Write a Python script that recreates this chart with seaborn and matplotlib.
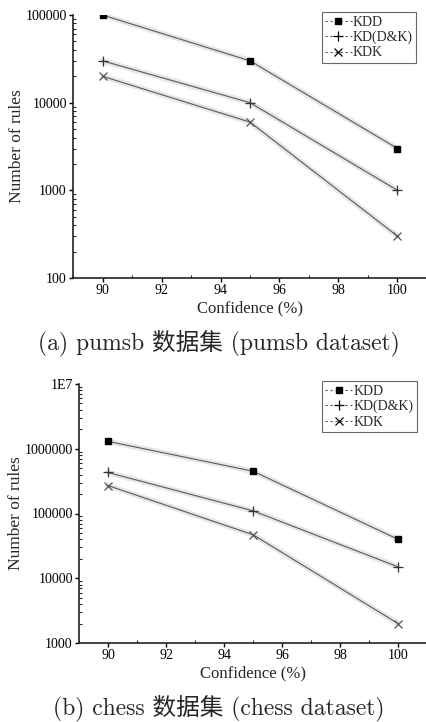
import matplotlib
matplotlib.use("Agg")
import matplotlib.pyplot as plt
import matplotlib.patheffects as pe
import matplotlib.ticker as mticker
from matplotlib.lines import Line2D
import pandas as pd
import seaborn as sns

confidence = [90, 95, 100]
series_names = ["KDD", "KD(D&K)", "KDK"]

pumsb_kdd = [100000, 30000, 3000]
pumsb_kddk = [30000, 10000, 1000]
pumsb_kdk = [20000, 6000, 300]

chess_kdd = [1300000, 450000, 40000]
chess_kddk = [430000, 110000, 15000]
chess_kdk = [270000, 47000, 2000]

x_ticks = [90, 92, 94, 96, 98, 100]
pumsb_yticks = [100, 1000, 10000, 100000]
chess_yticks = [1000, 10000, 100000, 1000000, 10000000]

captions = ["(a) pumsb 数据集 (pumsb dataset)", "(b) chess 数据集 (chess dataset)"]

sns.set_theme(style="ticks")
plt.rcParams["font.family"] = ["Liberation Serif", "DejaVu Serif"]

marker_style = {
    "KDD": dict(marker="s", markersize=5, color="black", markeredgecolor="black"),
    "KD(D&K)": dict(marker="+", markersize=7, color="#333333", markeredgewidth=0.9),
    "KDK": dict(marker="x", markersize=6, color="#555555", markeredgewidth=0.9),
}


def make_frame(kdd, kddk, kdk):
    rows = []
    for name, vals in zip(series_names, [kdd, kddk, kdk]):
        for c, v in zip(confidence, vals):
            rows.append({"confidence": c, "rules": v, "series": name})
    return pd.DataFrame(rows)


def fmt_rules(v, _pos):
    if v >= 1e7:
        return "1E7"
    return f"{int(round(v))}"


def draw_panel(ax, df, yticks):
    glow = [pe.Stroke(linewidth=4, foreground="#e6e6e6"), pe.Normal()]
    for name in series_names:
        sub = df[df["series"] == name]
        sns.lineplot(data=sub, x="confidence", y="rules", ax=ax, color="#5a5a5a",
                     linewidth=0.8, path_effects=glow, zorder=2)
        st = marker_style[name]
        ax.plot(sub["confidence"], sub["rules"], linestyle="none", zorder=3, **st)

    ax.set_yscale("log")
    ax.set_xlim(89, 101)
    ax.set_ylim(yticks[0], yticks[-1])
    ax.set_xticks(x_ticks)
    ax.xaxis.set_minor_locator(mticker.MultipleLocator(1))
    ax.set_yticks(yticks)
    ax.yaxis.set_major_formatter(mticker.FuncFormatter(fmt_rules))
    ax.yaxis.set_minor_locator(mticker.LogLocator(base=10, subs=range(2, 10)))
    ax.yaxis.set_minor_formatter(mticker.NullFormatter())
    ax.tick_params(axis="both", which="major", direction="out", length=3, width=1,
                   labelsize=10, colors="black", pad=1.5)
    ax.tick_params(axis="both", which="minor", direction="in", length=2.5, width=0.8)
    for side in ["top", "right"]:
        ax.spines[side].set_visible(False)
    for side in ["left", "bottom"]:
        ax.spines[side].set_linewidth(1.2)
        ax.spines[side].set_color("#222222")
    ax.set_xlabel("Confidence (%)", fontsize=12, labelpad=2)
    ax.set_ylabel("Number of rules", fontsize=12.5, labelpad=0)

    handles = [Line2D([0], [0], linestyle=(0, (2, 2.5)), linewidth=0.8, color="#555555",
                      **{k: v for k, v in marker_style[n].items() if k != "color"},
                      markerfacecolor="black")
               for n in series_names]
    leg = ax.legend(handles, series_names, loc="upper right", bbox_to_anchor=(0.97, 1.01),
                    fontsize=10, frameon=True, fancybox=False, edgecolor="#444444",
                    handlelength=1.9, handletextpad=0.1, borderpad=0.25, labelspacing=0.15,
                    borderaxespad=0.0)
    leg.get_frame().set_linewidth(0.8)
    for h in leg.legend_handles:
        h.set_markeredgecolor("black")


fig = plt.figure(figsize=(4.27, 7.22), dpi=100)
ax_top = fig.add_axes([73 / 427, 1 - 278 / 722, 1 - 73 / 427, 263 / 722])
ax_bot = fig.add_axes([79 / 427, 1 - 643 / 722, 1 - 79 / 427, 259 / 722])

draw_panel(ax_top, make_frame(pumsb_kdd, pumsb_kddk, pumsb_kdk), pumsb_yticks)
draw_panel(ax_bot, make_frame(chess_kdd, chess_kddk, chess_kdk), chess_yticks)

cap_font = ["cmr10", "Noto Sans CJK SC"]
fig.text(219 / 427, 1 - 343 / 722, captions[0], ha="center", va="center",
         fontsize=17, family=cap_font)
fig.text(219 / 427, 1 - 708 / 722, captions[1], ha="center", va="center",
         fontsize=17, family=cap_font)

fig.savefig("out.png", dpi=100)
